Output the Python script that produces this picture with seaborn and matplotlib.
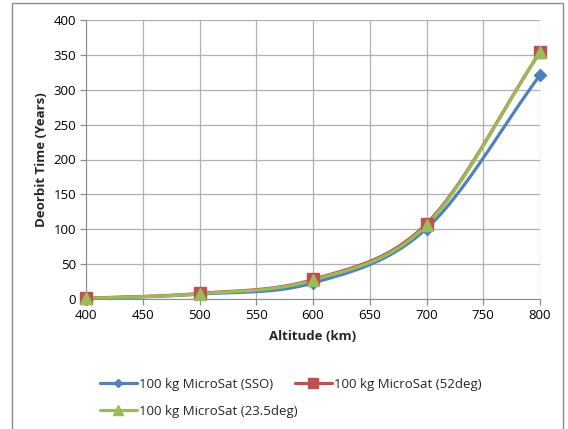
import matplotlib
matplotlib.use('Agg')
import matplotlib.pyplot as plt
import numpy as np
import pandas as pd
import seaborn as sns
from matplotlib.lines import Line2D
from matplotlib.patches import Rectangle

altitude = [400, 500, 600, 700, 800]
sso = [0.5, 7, 23, 101, 321]
deg52 = [1, 8, 28, 108, 354]
deg23 = [0.8, 7.5, 27, 106, 354]

labels = ['100 kg MicroSat (SSO)', '100 kg MicroSat (52deg)', '100 kg MicroSat (23.5deg)']
colors = ['#4F81BD', '#C0504D', '#9BBB59']
markers = ['D', 's', '^']
msizes = [6, 8, 8]


def smooth(x, y, n=30):
    # excel style smoothed line (catmull-rom through the points)
    x = np.asarray(x, float)
    y = np.asarray(y, float)
    px = np.concatenate([[2 * x[0] - x[1]], x, [2 * x[-1] - x[-2]]])
    py = np.concatenate([[2 * y[0] - y[1]], y, [2 * y[-1] - y[-2]]])
    xs, ys = [], []
    for i in range(1, len(px) - 2):
        t = np.linspace(0, 1, n)
        for p, out in ((px, xs), (py, ys)):
            p0, p1, p2, p3 = p[i - 1], p[i], p[i + 1], p[i + 2]
            m1 = (p2 - p0) / 6
            m2 = (p3 - p1) / 6
            b = ((1 - t) ** 3 * p1 + 3 * (1 - t) ** 2 * t * (p1 + m1)
                 + 3 * (1 - t) * t ** 2 * (p2 - m2) + t ** 3 * p2)
            out.extend(b)
    return xs, ys


sns.set_style('white')
plt.rcParams['font.family'] = ['Open Sans', 'DejaVu Sans']

fig = plt.figure(figsize=(5.68, 4.29), dpi=100)
fig.patches.append(Rectangle((12 / 568, -0.05), 551 / 568, 1.05 - 3 / 429,
                             transform=fig.transFigure, fill=False,
                             edgecolor='#8c8c8c', linewidth=1))
ax = fig.add_axes([86 / 568, 1 - 299 / 429, 454 / 568, 279 / 429])

handles = []
for vals, lab, c, m, ms in zip([sso, deg52, deg23], labels, colors, markers, msizes):
    xs, ys = smooth(altitude, vals)
    sns.lineplot(x=xs, y=ys, ax=ax, color=c, linewidth=2.3, sort=False, estimator=None)
    df = pd.DataFrame({'alt': altitude, 'val': vals})
    ax.plot(df['alt'], df['val'], linestyle='none', marker=m, markersize=ms,
            color=c, markeredgecolor=c, clip_on=False, zorder=5)
    handles.append(Line2D([0], [0], color=c, linewidth=2.3, marker=m, markersize=ms - 1.5))

ax.set_xlim(400, 800)
ax.set_ylim(0, 400)
ax.set_xticks(range(400, 801, 50))
ax.set_yticks(range(0, 401, 50))
ax.grid(True, color='#b0b0b0', linewidth=0.9)
ax.set_axisbelow(True)
for s in ['top', 'right']:
    ax.spines[s].set_visible(False)
for s in ['left', 'bottom']:
    ax.spines[s].set_color('#8c8c8c')
ax.tick_params(axis='both', labelsize=9.5, colors='#8c8c8c', labelcolor='black',
               direction='out', length=4, width=0.9, bottom=True, left=True, pad=3)
ax.set_xlabel('Altitude (km)', fontsize=9.5, fontweight='bold', labelpad=6)
ax.set_ylabel('Deorbit Time (Years)', fontsize=9.5, fontweight='bold', labelpad=4)

# legend fills column by column: SSO, 23.5deg | 52deg
order = [0, 2, 1]
fig.legend([handles[i] for i in order], [labels[i] for i in order],
           loc='upper left', bbox_to_anchor=(88 / 568, 1 - 366 / 429),
           ncol=2, frameon=False, fontsize=9.5, handlelength=2.8, handletextpad=0.2,
           columnspacing=-0.25, labelspacing=1.05)

fig.savefig('out.png', dpi=100)
